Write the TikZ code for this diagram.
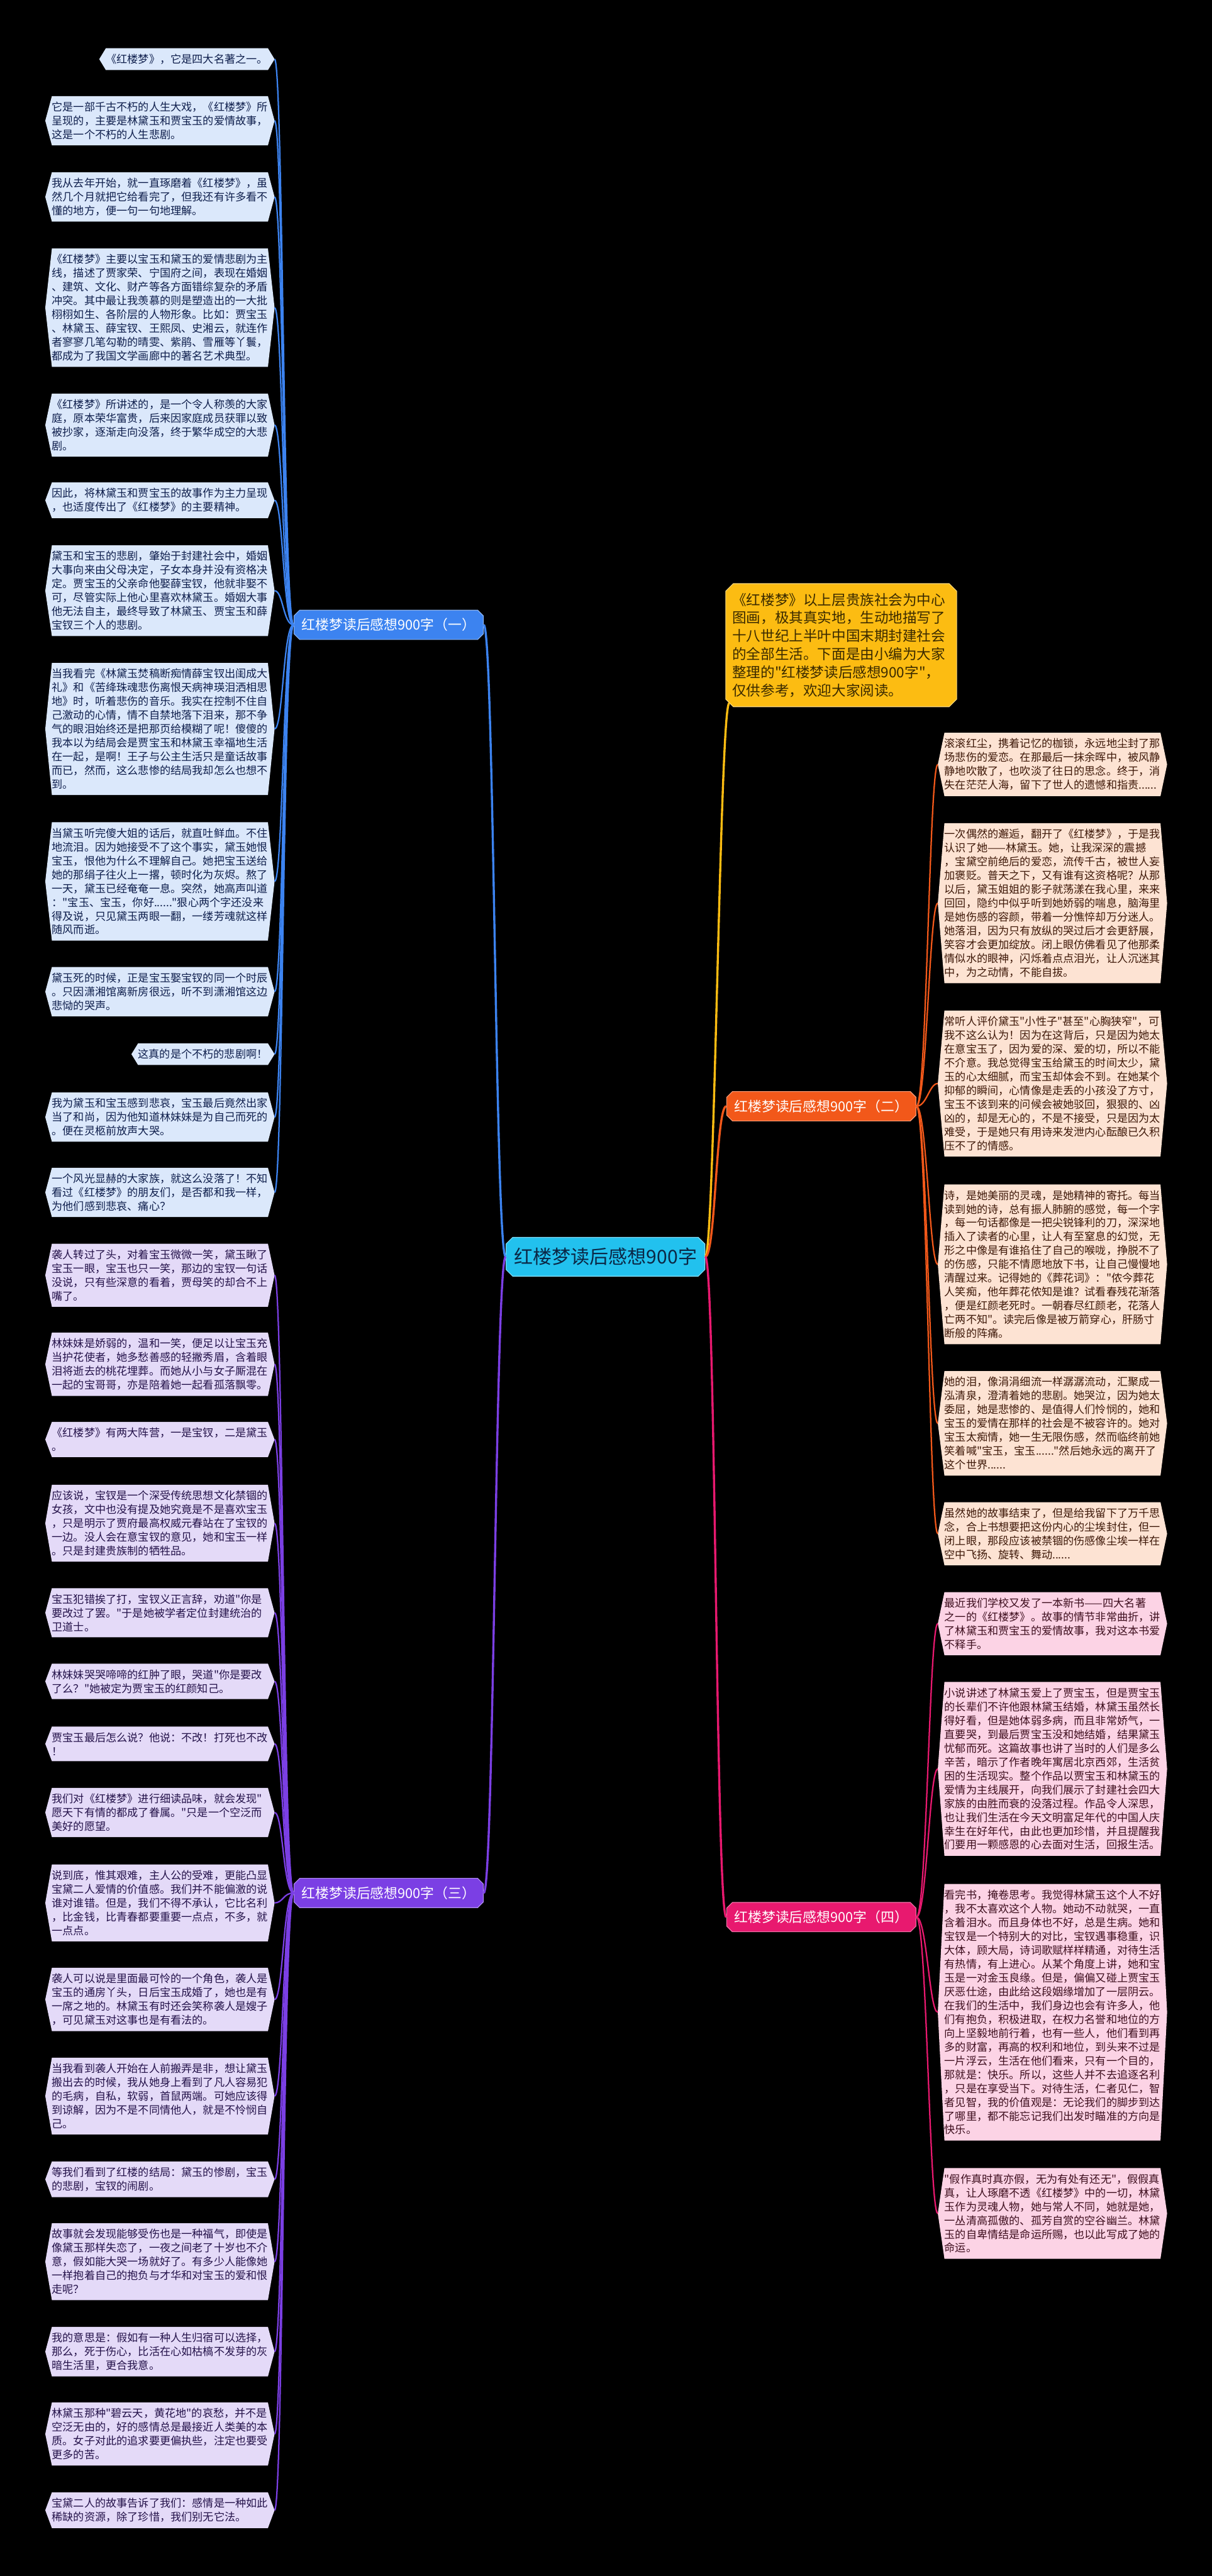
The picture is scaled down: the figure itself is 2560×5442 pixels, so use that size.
\documentclass[tikz,border=0pt]{standalone}
\usepackage{fontspec}
\setmainfont{Noto Sans CJK SC}
\usetikzlibrary{shapes.misc,calc}
\pgfdeclarelayer{bglayer}
\pgfdeclarelayer{shapelayer}
\pgfsetlayers{bglayer,shapelayer,main}
\newcommand\dq{\XeTeXglyph\XeTeXcharglyph"22\relax}
\definecolor{bluefill}{HTML}{DBE8FB}
\definecolor{bluetxt}{HTML}{0E1E4C}
\definecolor{blueline}{HTML}{3C83F0}
\definecolor{purplefill}{HTML}{E4DAF8}
\definecolor{purpletxt}{HTML}{24124A}
\definecolor{purpleline}{HTML}{7B3FE4}
\definecolor{orangefill}{HTML}{FDE3D3}
\definecolor{orangetxt}{HTML}{3E1808}
\definecolor{orangeline}{HTML}{F2581A}
\definecolor{pinkfill}{HTML}{FCD3E5}
\definecolor{pinktxt}{HTML}{3E0E1E}
\definecolor{pinkline}{HTML}{E8196F}
\definecolor{rootfill}{HTML}{22C1EE}
\definecolor{roottxt}{HTML}{0B2745}
\definecolor{yelfill}{HTML}{FCBC12}
\definecolor{yeltxt}{HTML}{3A2A00}
\tikzset{
  leaf/.style={inner xsep=0pt, inner ysep=12pt, align=left, font=\fontsize{22.8pt}{29.2pt}\selectfont},
  leafline/.style={line width=3pt},
  rootline/.style={line width=4.5pt},
  branch/.style={chamfered rectangle, chamfered rectangle xsep=6pt, chamfered rectangle ysep=6pt,
    minimum width=400pt, minimum height=62pt, inner xsep=8pt, inner ysep=8pt, text=white,
    font=\fontsize{29pt}{35pt}\selectfont, line width=1.5pt},
  rootbox/.style={chamfered rectangle, chamfered rectangle xsep=7pt, chamfered rectangle ysep=7pt,
    minimum width=420pt, minimum height=82pt, inner xsep=8pt, fill=rootfill, draw=rootfill!55!white,
    line width=1.5pt, text=roottxt, font=\fontsize{40pt}{48pt}\selectfont},
  introbox/.style={chamfered rectangle, chamfered rectangle xsep=8pt, chamfered rectangle ysep=8pt,
    text width=460pt, align=left, inner xsep=6pt, inner ysep=12pt, fill=yelfill, draw=yelfill!55!white,
    line width=1.5pt, text=yeltxt, font=\fontsize{30pt}{38.3pt}\selectfont}
}
% left leaf: [width]{name}{y}{colour}{parent}{text}
\newcommand\lleaf[6][456pt]{%
  \node[leaf, text width=#1, text=#4txt, anchor=east] (#2) at (566,#3) {#6};
  \begin{pgfonlayer}{shapelayer}
    \fill[#4fill] (#2.north west) -- (#2.north east) -- ([xshift=14pt]#2.east) -- (#2.south east)
      -- (#2.south west) -- ([xshift=-14pt]#2.west) -- cycle;
  \end{pgfonlayer}
  \coordinate (#2-tip) at ([xshift=14pt]#2.east);
  \draw[leafline, #4line] (#5.west) .. controls +(-22,0) and +(18,0) .. (#2-tip);
}
\newcommand\rleaf[6][456pt]{%
  \node[leaf, text width=#1, text=#4txt, anchor=west] (#2) at (1995,#3) {#6};
  \begin{pgfonlayer}{shapelayer}
    \fill[#4fill] (#2.north west) -- (#2.north east) -- ([xshift=14pt]#2.east) -- (#2.south east)
      -- (#2.south west) -- ([xshift=-14pt]#2.west) -- cycle;
  \end{pgfonlayer}
  \coordinate (#2-tip) at ([xshift=-14pt]#2.west);
  \draw[leafline, #4line] (#5.east) .. controls +(22,0) and +(-18,0) .. (#2-tip);
}
\begin{document}
\begin{tikzpicture}[x=1pt,y=-1pt]
\begin{pgfonlayer}{bglayer}
\fill[black] (0,0) rectangle (2560,5442);
\end{pgfonlayer}
\useasboundingbox (0,0) rectangle (2560,5442);

\node[rootbox] (root) at (1279,2655) {红楼梦读后感想900字};
\node[branch, fill=blueline, draw=blueline!60!white] (b1) at (821,1320) {红楼梦读后感想900字（一）};
\node[branch, fill=orangeline, draw=orangeline!60!white] (b2) at (1735,2337) {红楼梦读后感想900字（二）};
\node[branch, fill=purpleline, draw=purpleline!60!white] (b3) at (821,3999) {红楼梦读后感想900字（三）};
\node[branch, fill=pinkline, draw=pinkline!60!white] (b4) at (1735,4050) {红楼梦读后感想900字（四）};
\node[introbox] (intro) at (1777,1363) {《红楼梦》以上层贵族社会为中心\\图画，极其真实地，生动地描写了\\十八世纪上半叶中国末期封建社会\\的全部生活。下面是由小编为大家\\整理的\dq 红楼梦读后感想900字\dq ，\\仅供参考，欢迎大家阅读。};

\draw[rootline, blueline] (root.west) .. controls +(-22,0) and +(22,0) .. (b1.east);
\draw[rootline, purpleline] (root.west) .. controls +(-22,0) and +(22,0) .. (b3.east);
\draw[rootline, yelfill] (root.east) .. controls +(20,0) and +(-20,0) .. (intro.south west);
\draw[rootline, orangeline] (root.east) .. controls +(22,0) and +(-22,0) .. (b2.west);
\draw[rootline, pinkline] (root.east) .. controls +(22,0) and +(-22,0) .. (b4.west);

% ---- group one
\lleaf[342pt]{n1}{125}{blue}{b1}{《红楼梦》，它是四大名著之一。}
\lleaf{n2}{255}{blue}{b1}{它是一部千古不朽的人生大戏，《红楼梦》所\\呈现的，主要是林黛玉和贾宝玉的爱情故事，\\这是一个不朽的人生悲剧。}
\lleaf{n3}{416}{blue}{b1}{我从去年开始，就一直琢磨着《红楼梦》，虽\\然几个月就把它给看完了，但我还有许多看不\\懂的地方，便一句一句地理解。}
\lleaf{n4}{650}{blue}{b1}{《红楼梦》主要以宝玉和黛玉的爱情悲剧为主\\线，描述了贾家荣、宁国府之间，表现在婚姻\\、建筑、文化、财产等各方面错综复杂的矛盾\\冲突。其中最让我羡慕的则是塑造出的一大批\\栩栩如生、各阶层的人物形象。比如：贾宝玉\\、林黛玉、薛宝钗、王熙凤、史湘云，就连作\\者寥寥几笔勾勒的晴雯、紫鹃、雪雁等丫鬟，\\都成为了我国文学画廊中的著名艺术典型。}
\lleaf{n5}{898}{blue}{b1}{《红楼梦》所讲述的，是一个令人称羡的大家\\庭，原本荣华富贵，后来因家庭成员获罪以致\\被抄家，逐渐走向没落，终于繁华成空的大悲\\剧。}
\lleaf{n6}{1057}{blue}{b1}{因此，将林黛玉和贾宝玉的故事作为主力呈现\\，也适度传出了《红楼梦》的主要精神。}
\lleaf{n7}{1248}{blue}{b1}{黛玉和宝玉的悲剧，肇始于封建社会中，婚姻\\大事向来由父母决定，子女本身并没有资格决\\定。贾宝玉的父亲命他娶薛宝钗，他就非娶不\\可，尽管实际上他心里喜欢林黛玉。婚姻大事\\他无法自主，最终导致了林黛玉、贾宝玉和薛\\宝钗三个人的悲剧。}
\lleaf{n8}{1540}{blue}{b1}{当我看完《林黛玉焚稿断痴情薛宝钗出闺成大\\礼》和《苦绛珠魂悲伤离恨天病神瑛泪洒相思\\地》时，听着悲伤的音乐。我实在控制不住自\\己激动的心情，情不自禁地落下泪来，那不争\\气的眼泪始终还是把那页给模糊了呢！傻傻的\\我本以为结局会是贾宝玉和林黛玉幸福地生活\\在一起，是啊！王子与公主生活只是童话故事\\而已，然而，这么悲惨的结局我却怎么也想不\\到。}
\lleaf{n9}{1862}{blue}{b1}{当黛玉听完傻大姐的话后，就直吐鲜血。不住\\地流泪。因为她接受不了这个事实，黛玉她恨\\宝玉，恨他为什么不理解自己。她把宝玉送给\\她的那绢子往火上一撂，顿时化为灰烬。熬了\\一天，黛玉已经奄奄一息。突然，她高声叫道\\：\dq 宝玉、宝玉，你好......\dq 狠心两个字还没来\\得及说，只见黛玉两眼一翻，一缕芳魂就这样\\随风而逝。}
\lleaf{n10}{2095}{blue}{b1}{黛玉死的时候，正是宝玉娶宝钗的同一个时辰\\。只因潇湘馆离新房很远，听不到潇湘馆这边\\悲恸的哭声。}
\lleaf[274pt]{n11}{2227}{blue}{b1}{这真的是个不朽的悲剧啊！}
\lleaf{n12}{2360}{blue}{b1}{我为黛玉和宝玉感到悲哀，宝玉最后竟然出家\\当了和尚，因为他知道林妹妹是为自己而死的\\。便在灵柩前放声大哭。}
\lleaf{n13}{2519}{blue}{b1}{一个风光显赫的大家族，就这么没落了！不知\\看过《红楼梦》的朋友们，是否都和我一样，\\为他们感到悲哀、痛心？}

% ---- group three
\lleaf{n14}{2694}{purple}{b3}{袭人转过了头，对着宝玉微微一笑，黛玉瞅了\\宝玉一眼，宝玉也只一笑，那边的宝钗一句话\\没说，只有些深意的看着，贾母笑的却合不上\\嘴了。}
\lleaf{n15}{2882}{purple}{b3}{林妹妹是娇弱的，温和一笑，便足以让宝玉充\\当护花使者，她多愁善感的轻撇秀眉，含着眼\\泪将逝去的桃花埋葬。而她从小与女子厮混在\\一起的宝哥哥，亦是陪着她一起看孤落飘零。}
\lleaf{n16}{3041}{purple}{b3}{《红楼梦》有两大阵营，一是宝钗，二是黛玉\\。}
\lleaf{n17}{3218}{purple}{b3}{应该说，宝钗是一个深受传统思想文化禁锢的\\女孩，文中也没有提及她究竟是不是喜欢宝玉\\，只是明示了贾府最高权威元春站在了宝钗的\\一边。没人会在意宝钗的意见，她和宝玉一样\\。只是封建贵族制的牺牲品。}
\lleaf{n18}{3407}{purple}{b3}{宝玉犯错挨了打，宝钗义正言辞，劝道\dq 你是\\要改过了罢。\dq 于是她被学者定位封建统治的\\卫道士。}
\lleaf{n19}{3552}{purple}{b3}{林妹妹哭哭啼啼的红肿了眼，哭道\dq 你是要改\\了么？\dq 她被定为贾宝玉的红颜知己。}
\lleaf{n20}{3684}{purple}{b3}{贾宝玉最后怎么说？他说：不改！打死也不改\\！}
\lleaf{n21}{3829}{purple}{b3}{我们对《红楼梦》进行细读品味，就会发现\dq \\愿天下有情的都成了眷属。\dq 只是一个空泛而\\美好的愿望。}
\lleaf{n22}{4020}{purple}{b3}{说到底，惟其艰难，主人公的受难，更能凸显\\宝黛二人爱情的价值感。我们并不能偏激的说\\谁对谁错。但是，我们不得不承认，它比名利\\，比金钱，比青春都要重要一点点，不多，就\\一点点。}
\lleaf{n23}{4224}{purple}{b3}{袭人可以说是里面最可怜的一个角色，袭人是\\宝玉的通房丫头，日后宝玉成婚了，她也是有\\一席之地的。林黛玉有时还会笑称袭人是嫂子\\，可见黛玉对这事也是有看法的。}
\lleaf{n24}{4428}{purple}{b3}{当我看到袭人开始在人前搬弄是非，想让黛玉\\搬出去的时候，我从她身上看到了凡人容易犯\\的毛病，自私，软弱，首鼠两端。可她应该得\\到谅解，因为不是不同情他人，就是不怜悯自\\己。}
\lleaf{n25}{4604}{purple}{b3}{等我们看到了红楼的结局：黛玉的惨剧，宝玉\\的悲剧，宝钗的闹剧。}
\lleaf{n26}{4778}{purple}{b3}{故事就会发现能够受伤也是一种福气，即使是\\像黛玉那样失恋了，一夜之间老了十岁也不介\\意，假如能大哭一场就好了。有多少人能像她\\一样抱着自己的抱负与才华和对宝玉的爱和恨\\走呢？}
\lleaf{n27}{4968}{purple}{b3}{我的意思是：假如有一种人生归宿可以选择，\\那么，死于伤心，比活在心如枯槁不发芽的灰\\暗生活里，更合我意。}
\lleaf{n28}{5142}{purple}{b3}{林黛玉那种\dq 碧云天，黄花地\dq 的哀愁，并不是\\空泛无由的，好的感情总是最接近人类美的本\\质。女子对此的追求要更偏执些，注定也要受\\更多的苦。}
\lleaf{n29}{5303}{purple}{b3}{宝黛二人的故事告诉了我们：感情是一种如此\\稀缺的资源，除了珍惜，我们别无它法。}

% ---- group two
\rleaf{r1}{1615}{orange}{b2}{滚滚红尘，携着记忆的枷锁，永远地尘封了那\\场悲伤的爱恋。在那最后一抹余晖中，被风静\\静地吹散了，也吹淡了往日的思念。终于，消\\失在茫茫人海，留下了世人的遗憾和指责......}
\rleaf{r2}{1908}{orange}{b2}{一次偶然的邂逅，翻开了《红楼梦》，于是我\\认识了她——林黛玉。她，让我深深的震撼\\，宝黛空前绝后的爱恋，流传千古，被世人妄\\加褒贬。普天之下，又有谁有这资格呢？从那\\以后，黛玉姐姐的影子就荡漾在我心里，来来\\回回，隐约中似乎听到她娇弱的喘息，脑海里\\是她伤感的容颜，带着一分憔悴却万分迷人。\\她落泪，因为只有放纵的哭过后才会更舒展，\\笑容才会更加绽放。闭上眼仿佛看见了他那柔\\情似水的眼神，闪烁着点点泪光，让人沉迷其\\中，为之动情，不能自拔。}
\rleaf{r3}{2289}{orange}{b2}{常听人评价黛玉\dq 小性子\dq 甚至\dq 心胸狭窄\dq ，可\\我不这么认为！因为在这背后，只是因为她太\\在意宝玉了，因为爱的深、爱的切，所以不能\\不介意。我总觉得宝玉给黛玉的时间太少，黛\\玉的心太细腻，而宝玉却体会不到。在她某个\\抑郁的瞬间，心情像是走丢的小孩没了方寸，\\宝玉不该到来的问候会被她驳回，狠狠的、凶\\凶的，却是无心的，不是不接受，只是因为太\\难受，于是她只有用诗来发泄内心酝酿已久积\\压不了的情感。}
\rleaf{r4}{2671}{orange}{b2}{诗，是她美丽的灵魂，是她精神的寄托。每当\\读到她的诗，总有振人肺腑的感觉，每一个字\\，每一句话都像是一把尖锐锋利的刀，深深地\\插入了读者的心里，让人有至窒息的幻觉，无\\形之中像是有谁掐住了自己的喉咙，挣脱不了\\的伤感，只能不情愿地放下书，让自己慢慢地\\清醒过来。记得她的《葬花词》：\dq 侬今葬花\\人笑痴，他年葬花侬知是谁？试看春残花渐落\\，便是红颜老死时。一朝春尽红颜老，花落人\\亡两不知\dq 。读完后像是被万箭穿心，肝肠寸\\断般的阵痛。}
\rleaf{r5}{3007}{orange}{b2}{她的泪，像涓涓细流一样潺潺流动，汇聚成一\\泓清泉，澄清着她的悲剧。她哭泣，因为她太\\委屈，她是悲惨的、是值得人们怜悯的，她和\\宝玉的爱情在那样的社会是不被容许的。她对\\宝玉太痴情，她一生无限伤感，然而临终前她\\笑着喊\dq 宝玉，宝玉......\dq 然后她永远的离开了\\这个世界......}
\rleaf{r6}{3240}{orange}{b2}{虽然她的故事结束了，但是给我留下了万千思\\念，合上书想要把这份内心的尘埃封住，但一\\闭上眼，那段应该被禁锢的伤感像尘埃一样在\\空中飞扬、旋转、舞动......}

% ---- group four
\rleaf{p1}{3430}{pink}{b4}{最近我们学校又发了一本新书——四大名著\\之一的《红楼梦》。故事的情节非常曲折，讲\\了林黛玉和贾宝玉的爱情故事，我对这本书爱\\不释手。}
\rleaf{p2}{3737}{pink}{b4}{小说讲述了林黛玉爱上了贾宝玉，但是贾宝玉\\的长辈们不许他跟林黛玉结婚，林黛玉虽然长\\得好看，但是她体弱多病，而且非常娇气，一\\直要哭，到最后贾宝玉没和她结婚，结果黛玉\\忧郁而死。这篇故事也讲了当时的人们是多么\\辛苦，暗示了作者晚年寓居北京西郊，生活贫\\困的生活现实。整个作品以贾宝玉和林黛玉的\\爱情为主线展开，向我们展示了封建社会四大\\家族的由胜而衰的没落过程。作品令人深思，\\也让我们生活在今天文明富足年代的中国人庆\\幸生在好年代，由此也更加珍惜，并且提醒我\\们要用一颗感恩的心去面对生活，回报生活。}
\rleaf{p3}{4251}{pink}{b4}{看完书，掩卷思考。我觉得林黛玉这个人不好\\，我不太喜欢这个人物。她动不动就哭，一直\\含着泪水。而且身体也不好，总是生病。她和\\宝钗是一个特别大的对比，宝钗遇事稳重，识\\大体，顾大局，诗词歌赋样样精通，对待生活\\有热情，有上进心。从某个角度上讲，她和宝\\玉是一对金玉良缘。但是，偏偏又碰上贾宝玉\\厌恶仕途，由此给这段姻缘增加了一层阴云。\\在我们的生活中，我们身边也会有许多人，他\\们有抱负，积极进取，在权力名誉和地位的方\\向上坚毅地前行着，也有一些人，他们看到再\\多的财富，再高的权利和地位，到头来不过是\\一片浮云，生活在他们看来，只有一个目的，\\那就是：快乐。所以，这些人并不去追逐名利\\，只是在享受当下。对待生活，仁者见仁，智\\者见智，我的价值观是：无论我们的脚步到达\\了哪里，都不能忘记我们出发时瞄准的方向是\\快乐。}
\rleaf{p4}{4676}{pink}{b4}{\dq 假作真时真亦假，无为有处有还无\dq ，假假真\\真，让人琢磨不透《红楼梦》中的一切，林黛\\玉作为灵魂人物，她与常人不同，她就是她，\\一丛清高孤傲的、孤芳自赏的空谷幽兰。林黛\\玉的自卑情结是命运所赐，也以此写成了她的\\命运。}
\end{tikzpicture}
\end{document}
